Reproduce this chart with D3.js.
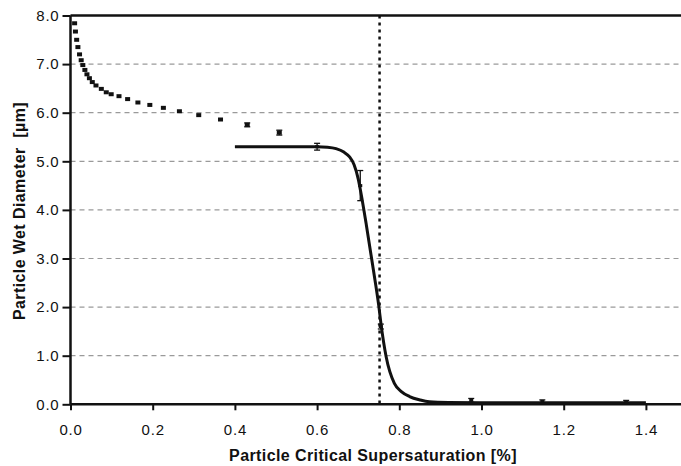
<!DOCTYPE html>
<html>
<head>
<meta charset="utf-8">
<script src="https://cdn.jsdelivr.net/npm/d3@7"></script>
<style>
  body { margin: 0; background: #fff; }
  svg { display: block; }
  .tick text { font-family: "Liberation Sans", Arial, sans-serif; font-size: 15px; fill: #111; }
  .lbl { font-family: "Liberation Sans", Arial, sans-serif; font-size: 16px; font-weight: bold; fill: #111; letter-spacing: 0.4px; }
</style>
</head>
<body>
<div id="chart"></div>
<script>
// measured points before the sigmoid (upper branch)
var upperX = [0.010, 0.012, 0.015, 0.018, 0.022, 0.026, 0.030, 0.035, 0.040, 0.046, 0.053, 0.062, 0.075, 0.087, 0.099, 0.118, 0.139, 0.164, 0.193, 0.226, 0.265, 0.312, 0.365, 0.430, 0.508];
var upperY = [7.84, 7.67, 7.50, 7.35, 7.20, 7.08, 6.98, 6.88, 6.79, 6.71, 6.63, 6.56, 6.49, 6.42, 6.38, 6.34, 6.28, 6.21, 6.16, 6.10, 6.03, 5.95, 5.86, 5.75, 5.59];
var upperErr = [0, 0, 0, 0, 0, 0, 0, 0, 0, 0, 0, 0, 0, 0, 0, 0, 0, 0, 0, 0, 0, 0, 0, 0.04, 0.05];

// points on the fitted curve, with error bars
var fitPtX = [0.600, 0.705, 0.755, 0.975, 1.148, 1.352];
var fitPtY = [5.30, 4.50, 1.60, 0.08, 0.06, 0.05];
var fitPtErr = [0.07, 0.31, 0.05, 0.04, 0.03, 0.03];

// fitted sigmoid
var curveX = [0.40, 0.50, 0.60, 0.625, 0.646, 0.665, 0.679, 0.69, 0.70, 0.71, 0.72, 0.735, 0.750, 0.756, 0.768, 0.788, 0.805, 0.825, 0.85, 0.873, 0.92, 1.00, 1.20, 1.40];
var curveY = [5.30, 5.30, 5.30, 5.29, 5.26, 5.19, 5.09, 4.93, 4.64, 4.19, 3.68, 2.87, 2.03, 1.62, 0.98, 0.43, 0.26, 0.16, 0.09, 0.05, 0.035, 0.03, 0.03, 0.03];

var criticalSS = 0.752;

var xTicks = [0, 0.2, 0.4, 0.6, 0.8, 1.0, 1.2, 1.4];
var yTicks = [0, 1, 2, 3, 4, 5, 6, 7, 8];
var gridY = [1, 2, 3, 4, 5, 6, 7];

var width = 681, height = 466;
var margin = {top: 15.5, left: 70.5, bottom: 61.7};

var svg = d3.select("#chart").append("svg")
    .attr("width", width)
    .attr("height", height);

var x = d3.scaleLinear().domain([0, 1.5]).range([margin.left, margin.left + 1.5 * 411]);
var y = d3.scaleLinear().domain([0, 8]).range([height - margin.bottom, margin.top]);

// dashed gridlines
svg.selectAll("line.grid")
    .data(gridY).enter()
    .append("line")
    .attr("class", "grid")
    .attr("x1", x(0)).attr("x2", width)
    .attr("y1", function(d) { return y(d); })
    .attr("y2", function(d) { return y(d); })
    .style("stroke", "#9a9a9a")
    .style("stroke-width", 1.2)
    .style("stroke-dasharray", "5,4");

// critical supersaturation marker
svg.append("line")
    .attr("x1", x(criticalSS)).attr("x2", x(criticalSS))
    .attr("y1", y(8)).attr("y2", y(0))
    .style("stroke", "#111")
    .style("stroke-width", 2.5)
    .style("stroke-dasharray", "3,4");

// top frame line
svg.append("line")
    .attr("x1", x(0)).attr("x2", width)
    .attr("y1", y(8)).attr("y2", y(8))
    .style("stroke", "#111")
    .style("stroke-width", 2.5);

// axes
var xAxis = svg.append("g")
    .attr("transform", "translate(0," + y(0) + ")")
    .call(d3.axisBottom(x).tickValues(xTicks).tickFormat(d3.format(".1f")).tickSize(6).tickPadding(14));
xAxis.select(".domain").attr("d", "M" + x(0) + ",0H" + width).style("stroke", "#111").style("stroke-width", 2.5);
xAxis.selectAll(".tick line").style("stroke", "#111").style("stroke-width", 2);

var yAxis = svg.append("g")
    .attr("transform", "translate(" + x(0) + ",0)")
    .call(d3.axisLeft(y).tickValues(yTicks).tickFormat(d3.format(".1f")).tickSize(8).tickPadding(3));
yAxis.select(".domain").attr("d", "M0," + y(8) + "V" + y(0)).style("stroke", "#111").style("stroke-width", 2.5);
yAxis.selectAll(".tick line").style("stroke", "#111").style("stroke-width", 2);
svg.selectAll(".tick text").style("letter-spacing", "0.8px");

// fitted curve
var line = d3.line()
    .x(function(d) { return x(d[0]); })
    .y(function(d) { return y(d[1]); })
    .curve(d3.curveMonotoneX);
svg.append("path")
    .datum(curveX.map(function(v, i) { return [v, curveY[i]]; }))
    .attr("d", line)
    .style("fill", "none")
    .style("stroke", "#111")
    .style("stroke-width", 3);

// error bars + markers
function drawPoints(xs, ys, es, w, h) {
    var pts = xs.map(function(v, i) { return {x: v, y: ys[i], e: es[i]}; });
    var g = svg.append("g");
    var eb = g.selectAll("g.eb").data(pts.filter(function(d) { return d.e > 0; })).enter().append("g");
    eb.append("line")
        .attr("x1", function(d) { return x(d.x); }).attr("x2", function(d) { return x(d.x); })
        .attr("y1", function(d) { return y(d.y + d.e); }).attr("y2", function(d) { return y(d.y - d.e); })
        .style("stroke", "#111").style("stroke-width", 1.3);
    [1, -1].forEach(function(s) {
        eb.append("line")
            .attr("x1", function(d) { return x(d.x) - 3; }).attr("x2", function(d) { return x(d.x) + 3; })
            .attr("y1", function(d) { return y(d.y + s * d.e); }).attr("y2", function(d) { return y(d.y + s * d.e); })
            .style("stroke", "#111").style("stroke-width", 1.3);
    });
    g.selectAll("rect").data(pts).enter().append("rect")
        .attr("x", function(d) { return x(d.x) - w / 2; })
        .attr("y", function(d) { return y(d.y) - h / 2; })
        .attr("width", w).attr("height", h)
        .style("fill", "#111");
}
drawPoints(upperX, upperY, upperErr, 5, 4);
drawPoints(fitPtX, fitPtY, fitPtErr, 4, 3);

// axis titles
svg.append("text")
    .attr("class", "lbl")
    .attr("x", 373).attr("y", 461)
    .attr("text-anchor", "middle")
    .text("Particle Critical Supersaturation [%]");

svg.append("text")
    .attr("class", "lbl")
    .attr("transform", "translate(25,211) rotate(-90)")
    .attr("text-anchor", "middle")
    .attr("xml:space", "preserve")
    .style("white-space", "pre")
    .text("Particle Wet Diameter  [\u00b5m]");
</script>
</body>
</html>
